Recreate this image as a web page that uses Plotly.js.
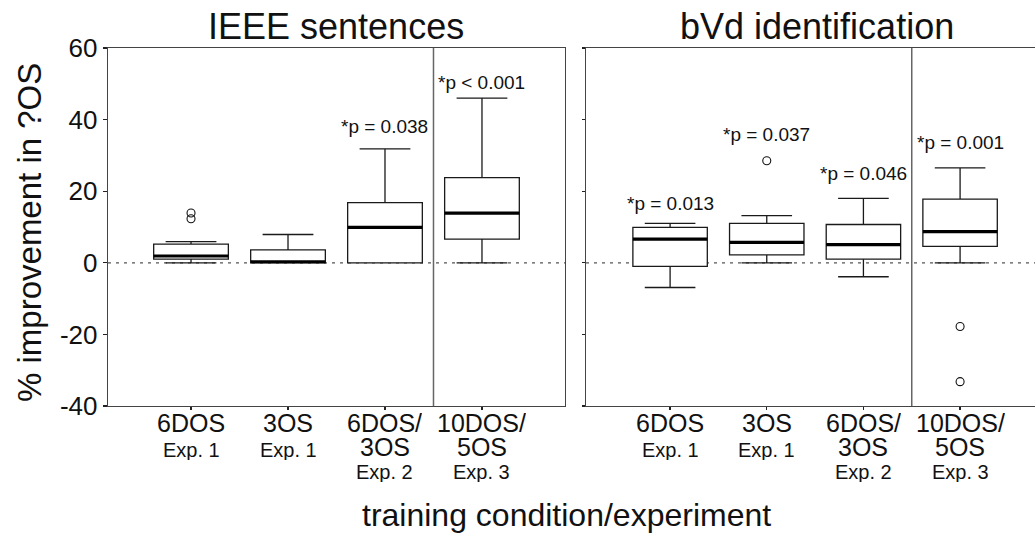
<!DOCTYPE html>
<html><head><meta charset="utf-8">
<script src="https://cdn.plot.ly/plotly-3.0.1.min.js"></script>
<style>html,body{margin:0;padding:0;background:#fff}</style>
</head><body><div id="chart" style="width:1035px;height:535px"></div>
<script>
// ---- data ----
const positions = [1, 2, 3, 4];
const labelLine1 = ["6DOS", "3OS", "6DOS/", "10DOS/"];
const labelLine2 = ["", "", "3OS", "5OS"];
const labelExp = ["Exp. 1", "Exp. 1", "Exp. 2", "Exp. 3"];
const yTickVals = [-40, -20, 0, 20, 40, 60];
const yTickText = ["-40", "-20", "0", "20", "40", "60"];

const ieeeLower = [0, 0, 0, 0];
const ieeeQ1 = [1.0, 0, 0, 6.6];
const ieeeMedian = [1.9, 0.3, 9.9, 13.9];
const ieeeQ3 = [5.2, 3.6, 16.8, 23.8];
const ieeeUpper = [5.9, 7.9, 31.8, 46.0];
const ieeeOutX = [1, 1];
const ieeeOutY = [13.9, 12.3];
const ieeeP = ["", "", "*p = 0.038", "*p < 0.001"];

const bvdLower = [-6.9, 0, -3.9, 0];
const bvdQ1 = [-1.0, 2.2, 1.0, 4.6];
const bvdMedian = [6.6, 5.7, 5.1, 8.7];
const bvdQ3 = [9.9, 11.0, 10.7, 17.8];
const bvdUpper = [11.0, 13.2, 18.0, 26.5];
const bvdOutX = [2, 4, 4];
const bvdOutY = [28.5, -17.8, -33.2];
const bvdP = ["*p = 0.013", "*p = 0.037", "*p = 0.046", "*p = 0.001"];

const panelTitles = ["IEEE sentences", "bVd identification"];
const yTitle = "% improvement in ?OS";
const xTitle = "training condition/experiment";

// ---- layout constants ----
const W = 1035, H = 535, T = 48, B = 129;
const plotH = H - T - B;
const FONT = "Arial, 'Liberation Sans', sans-serif";
const ieeeShift = [0, 0, 22, 16];
const bvdShift = [20, 26, 25, 25];

function boxTrace(q1, med, q3, lo, hi, xa, ya) {
  return {type: 'box', x: positions, q1: q1, median: med, q3: q3,
    lowerfence: lo, upperfence: hi, xaxis: xa, yaxis: ya,
    width: 0.77, whiskerwidth: 0.68, fillcolor: '#ffffff',
    line: {color: '#1a1a1a', width: 1.3}, boxpoints: false,
    hoverinfo: 'skip', showlegend: false};
}
function medianTrace(med, xa, ya) {
  return {type: 'box', x: positions, q1: med, median: med, q3: med,
    lowerfence: med, upperfence: med, xaxis: xa, yaxis: ya,
    width: 0.77, whiskerwidth: 0, fillcolor: 'rgba(0,0,0,0)',
    line: {color: '#000', width: 3.2}, boxpoints: false,
    hoverinfo: 'skip', showlegend: false};
}
function outTrace(xs, ys, xa, ya) {
  return {type: 'scatter', mode: 'markers', x: xs, y: ys, xaxis: xa, yaxis: ya,
    marker: {symbol: 'circle-open', size: 8, color: '#111', line: {width: 1.1, color: '#111'}},
    hoverinfo: 'skip', showlegend: false};
}

const data = [
  boxTrace(ieeeQ1, ieeeMedian, ieeeQ3, ieeeLower, ieeeUpper, 'x', 'y'),
  medianTrace(ieeeMedian, 'x', 'y'),
  outTrace(ieeeOutX, ieeeOutY, 'x', 'y'),
  boxTrace(bvdQ1, bvdMedian, bvdQ3, bvdLower, bvdUpper, 'x2', 'y2'),
  medianTrace(bvdMedian, 'x2', 'y2'),
  outTrace(bvdOutX, bvdOutY, 'x2', 'y2')
];

const annotations = [];
function pyPaper(px) { return (H - B - px) / plotH; }
function lbl(xref, x, py, text, size, h) {
  return {xref: xref, yref: 'paper', x: x, y: pyPaper(py), xanchor: 'center', yanchor: 'middle',
    height: h, text: text, showarrow: false, font: {family: FONT, size: size, color: '#111'}};
}
function addTickLabels(xref) {
  positions.forEach((p, i) => {
    annotations.push(lbl(xref, p, 423, labelLine1[i], 25, 22));
    if (labelLine2[i]) {
      annotations.push(lbl(xref, p, 447, labelLine2[i], 25, 22));
      annotations.push(lbl(xref, p, 472, labelExp[i], 20, 20));
    } else {
      annotations.push(lbl(xref, p, 450, labelExp[i], 20, 20));
    }
  });
}
addTickLabels('x');
addTickLabels('x2');
function addP(labels, upper, outX, outY, shifts, xref, yref) {
  positions.forEach((p, i) => {
    if (!labels[i]) return;
    let top = upper[i];
    outX.forEach((ox, j) => { if (ox === p && outY[j] > top) top = outY[j]; });
    annotations.push({xref: xref, yref: yref, x: p, y: top, xanchor: 'center', yanchor: 'middle', yshift: shifts[i],
      text: labels[i], showarrow: false, font: {family: FONT, size: 19, color: '#111'}});
  });
}
addP(ieeeP, ieeeUpper, ieeeOutX, ieeeOutY, ieeeShift, 'x', 'y');
addP(bvdP, bvdUpper, bvdOutX, bvdOutY, bvdShift, 'x2', 'y2');

annotations.push({xref: 'paper', yref: 'paper', x: 336 / W, y: pyPaper(27), xanchor: 'center', yanchor: 'middle',
  text: panelTitles[0], showarrow: false, font: {family: FONT, size: 36, color: '#111'}});
annotations.push({xref: 'paper', yref: 'paper', x: 817 / W, y: pyPaper(27), xanchor: 'center', yanchor: 'middle',
  text: panelTitles[1], showarrow: false, font: {family: FONT, size: 36, color: '#111'}});
annotations.push({xref: 'paper', yref: 'paper', x: 30 / W, y: pyPaper(233), xanchor: 'center', yanchor: 'middle',
  textangle: -90, text: yTitle, showarrow: false, font: {family: FONT, size: 33, color: '#111'}});
annotations.push({xref: 'paper', yref: 'paper', x: 566 / W, y: pyPaper(515), xanchor: 'center', yanchor: 'middle',
  text: xTitle, showarrow: false, font: {family: FONT, size: 32, color: '#111'}});

const axLine = {showline: true, linecolor: '#444', linewidth: 1.3, showgrid: false, zeroline: false,
  ticks: 'outside', tickcolor: '#222', tickwidth: 1.3};

const layout = {
  width: W, height: H,
  margin: {l: 0, r: 0, t: T, b: B, pad: 0},
  paper_bgcolor: '#fff', plot_bgcolor: '#fff',
  showlegend: false,
  font: {family: FONT, color: '#111'},
  xaxis: Object.assign({}, axLine, {domain: [108 / W, 565 / W], range: [0.144, 4.856], mirror: true,
    tickvals: positions, ticklen: 3, showticklabels: false, anchor: 'y'}),
  yaxis: Object.assign({}, axLine, {domain: [0, 1], range: [-40, 60], mirror: true,
    tickvals: yTickVals, ticktext: yTickText, ticklen: 4,
    tickfont: {family: FONT, size: 26, color: '#111'}, anchor: 'x'}),
  xaxis2: Object.assign({}, axLine, {domain: [586 / W, 1], range: [0.13, 4.775], mirror: true,
    tickvals: positions, ticklen: 3, showticklabels: false, anchor: 'y2'}),
  yaxis2: Object.assign({}, axLine, {domain: [0, 1], range: [-40, 60], mirror: false,
    tickvals: yTickVals, ticklen: 3, showticklabels: false, anchor: 'x2'}),
  shapes: [
    {type: 'line', xref: 'x domain', yref: 'y', x0: 0, x1: 1, y0: 0, y1: 0, layer: 'below',
      line: {color: '#555', width: 1.2, dash: '3px,5px'}},
    {type: 'line', xref: 'x2 domain', yref: 'y2', x0: 0, x1: 1, y0: 0, y1: 0, layer: 'below',
      line: {color: '#555', width: 1.2, dash: '3px,5px'}},
    {type: 'line', xref: 'x', yref: 'y domain', x0: 3.5, x1: 3.5, y0: 0, y1: 1,
      line: {color: '#666', width: 1.5}},
    {type: 'line', xref: 'x2', yref: 'y2 domain', x0: 3.5, x1: 3.5, y0: 0, y1: 1,
      line: {color: '#666', width: 1.5}}
  ],
  annotations: annotations
};

Plotly.newPlot('chart', data, layout, {displayModeBar: false, staticPlot: true});
</script>
</body></html>
